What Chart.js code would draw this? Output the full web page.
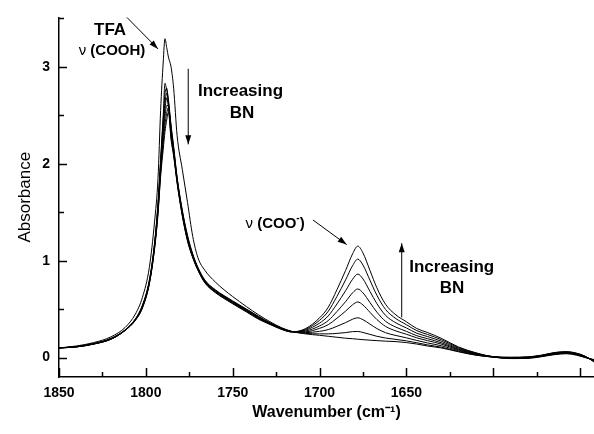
<!DOCTYPE html>
<html>
<head>
<meta charset="utf-8">
<script src="https://cdn.jsdelivr.net/npm/chart.js@4.4.1/dist/chart.umd.min.js"></script>
<style>
  html, body { margin: 0; padding: 0; background: #fff; }
  #wrap { width: 594px; height: 434px; position: relative; }
</style>
</head>
<body>
<div id="wrap"><canvas id="spectra"></canvas></div>
<script>
// --- data ---
const wavenumbers = [1850, 1840, 1830, 1820, 1812, 1806, 1802, 1798, 1795, 1793, 1791.5, 1790, 1789, 1788, 1787, 1785.5,
  1784, 1782, 1779, 1776, 1773, 1770, 1766, 1760, 1755, 1750, 1742, 1735, 1728, 1722, 1716,
  1708, 1700, 1695, 1690, 1685, 1681, 1678, 1675, 1671, 1667, 1662, 1656, 1650, 1644, 1638, 1630, 1620, 1610, 1600,
  1590, 1580, 1572, 1565, 1558, 1552, 1547, 1542];

// TFA alone (no BN)
const tfaOnly = [0.10, 0.12, 0.155, 0.215, 0.31, 0.45, 0.62, 0.93, 1.40, 1.85, 2.55, 3.05, 3.29, 3.20, 3.10, 3.00,
  2.78, 2.29, 1.94, 1.60, 1.25, 1.03, 0.90, 0.78, 0.70, 0.63, 0.525, 0.44, 0.365, 0.31, 0.27,
  0.245, 0.23, 0.22, 0.21, 0.20, 0.195, 0.19, 0.185, 0.18, 0.175, 0.17, 0.165, 0.155, 0.14, 0.12, 0.10, 0.06, 0.025, 0.005,
  -0.01, -0.008, 0.01, 0.03, 0.04, 0.025, 0.0, -0.02];

// increasing amounts of BN
const bn1 = [0.10, 0.115, 0.145, 0.20, 0.285, 0.40, 0.54, 0.80, 1.18, 1.60, 2.05, 2.50, 2.83, 2.76, 2.66, 2.40,
  2.18, 1.86, 1.52, 1.26, 1.07, 0.93, 0.80, 0.70, 0.64, 0.585, 0.50, 0.425, 0.355, 0.305, 0.27,
  0.25, 0.245, 0.245, 0.25, 0.258, 0.268, 0.27, 0.259, 0.24, 0.22, 0.202, 0.188, 0.173, 0.153, 0.132, 0.108, 0.064, 0.027, 0.005,
  -0.008, -0.005, 0.013, 0.034, 0.044, 0.028, 0.002, -0.024];
const bn2 = [0.10, 0.114, 0.144, 0.198, 0.284, 0.398, 0.535, 0.79, 1.17, 1.58, 2.02, 2.45, 2.72, 2.78, 2.64, 2.38,
  2.16, 1.85, 1.51, 1.25, 1.06, 0.925, 0.795, 0.695, 0.635, 0.58, 0.495, 0.42, 0.352, 0.303, 0.27,
  0.258, 0.271, 0.289, 0.323, 0.361, 0.396, 0.411, 0.391, 0.346, 0.30, 0.257, 0.228, 0.204, 0.177, 0.152, 0.123, 0.072, 0.031, 0.006,
  -0.006, -0.002, 0.016, 0.037, 0.047, 0.031, 0.004, -0.028];
const bn3 = [0.10, 0.113, 0.143, 0.196, 0.283, 0.395, 0.53, 0.78, 1.16, 1.56, 1.99, 2.40, 2.62, 2.73, 2.62, 2.36,
  2.14, 1.84, 1.50, 1.24, 1.055, 0.92, 0.79, 0.69, 0.63, 0.575, 0.49, 0.415, 0.35, 0.30, 0.268,
  0.267, 0.302, 0.34, 0.406, 0.48, 0.545, 0.574, 0.543, 0.468, 0.393, 0.322, 0.275, 0.241, 0.204, 0.176, 0.14, 0.08, 0.035, 0.007,
  -0.004, 0.0, 0.018, 0.04, 0.05, 0.034, 0.006, -0.032];
const bn4 = [0.10, 0.112, 0.142, 0.194, 0.282, 0.392, 0.525, 0.775, 1.15, 1.54, 1.96, 2.35, 2.56, 2.68, 2.58, 2.33,
  2.12, 1.83, 1.49, 1.23, 1.05, 0.915, 0.785, 0.685, 0.625, 0.57, 0.485, 0.41, 0.347, 0.298, 0.267,
  0.275, 0.327, 0.382, 0.475, 0.578, 0.668, 0.708, 0.668, 0.569, 0.469, 0.375, 0.314, 0.271, 0.226, 0.196, 0.154, 0.087, 0.039, 0.008,
  -0.002, 0.002, 0.02, 0.043, 0.053, 0.037, 0.008, -0.035];
const bn5 = [0.10, 0.111, 0.141, 0.192, 0.281, 0.39, 0.52, 0.77, 1.14, 1.52, 1.93, 2.28, 2.48, 2.60, 2.60, 2.30,
  2.12, 1.82, 1.48, 1.22, 1.04, 0.91, 0.78, 0.68, 0.62, 0.565, 0.48, 0.405, 0.344, 0.296, 0.266,
  0.284, 0.356, 0.43, 0.553, 0.69, 0.808, 0.862, 0.812, 0.684, 0.557, 0.436, 0.358, 0.306, 0.252, 0.218, 0.17, 0.095, 0.043, 0.009,
  0.0, 0.004, 0.022, 0.046, 0.056, 0.04, 0.01, -0.038];
const bn6 = [0.10, 0.11, 0.14, 0.19, 0.28, 0.387, 0.515, 0.765, 1.13, 1.50, 1.90, 2.22, 2.40, 2.52, 2.58, 2.28,
  2.10, 1.81, 1.47, 1.21, 1.035, 0.905, 0.775, 0.675, 0.615, 0.56, 0.475, 0.40, 0.341, 0.294, 0.265,
  0.292, 0.385, 0.478, 0.631, 0.802, 0.948, 1.016, 0.955, 0.799, 0.644, 0.497, 0.402, 0.34, 0.278, 0.24, 0.186, 0.103, 0.047, 0.009,
  0.002, 0.006, 0.024, 0.049, 0.059, 0.043, 0.012, -0.041];
const bn7 = [0.10, 0.11, 0.14, 0.19, 0.279, 0.385, 0.51, 0.76, 1.12, 1.48, 1.87, 2.15, 2.33, 2.45, 2.53, 2.25,
  2.08, 1.80, 1.46, 1.20, 1.03, 0.90, 0.77, 0.67, 0.61, 0.555, 0.47, 0.395, 0.338, 0.292, 0.265,
  0.30, 0.41, 0.52, 0.70, 0.90, 1.07, 1.15, 1.08, 0.90, 0.72, 0.55, 0.44, 0.37, 0.30, 0.26, 0.20, 0.11, 0.05, 0.01,
  0.004, 0.008, 0.026, 0.052, 0.062, 0.046, 0.014, -0.045];

const xTickLabels = [1850, 1800, 1750, 1700, 1650];
const xTickMarks = [1850, 1825, 1800, 1775, 1750, 1725, 1700, 1675, 1650, 1625, 1600, 1575, 1550];
const yTickLabels = [0, 1, 2, 3];
const yTickMarks = [0, 0.5, 1, 1.5, 2, 2.5, 3, 3.5];

// annotations in data units (wavenumber, absorbance)
const notes = {
  tfa: { w: 1820.6, a: 3.38 },
  cooh: { w: 1819.5, a: 3.165 },
  arrowTfa: [1810.9, 3.51, 1793.0, 3.185],
  arrowDown: [1775.6, 2.98, 1775.6, 2.20],
  inc1: { w: 1745.5, a: 2.745 },
  bn1: { w: 1744.6, a: 2.52 },
  coo: { w: 1725.6, a: 1.38 },
  arrowCoo: [1703.8, 1.42, 1684.4, 1.166],
  arrowUp: [1652.7, 0.415, 1652.7, 1.18],
  inc2: { w: 1623.9, a: 0.93 },
  bn2: { w: 1623.7, a: 0.717 }
};

const FONT = "'Liberation Sans', Arial, Helvetica, sans-serif";
const series = [tfaOnly, bn1, bn2, bn3, bn4, bn5, bn6, bn7];

function drawArrow(ctx, x1, y1, x2, y2) {
  const head = 9, half = 3;
  ctx.beginPath(); ctx.moveTo(x1, y1); ctx.lineTo(x2, y2); ctx.stroke();
  const ang = Math.atan2(y2 - y1, x2 - x1);
  const c = Math.cos(ang), s = Math.sin(ang);
  ctx.beginPath();
  ctx.moveTo(x2, y2);
  ctx.lineTo(x2 - head * c + half * s, y2 - head * s - half * c);
  ctx.lineTo(x2 - head * c - half * s, y2 - head * s + half * c);
  ctx.closePath();
  ctx.fill();
}

function drawParts(ctx, parts, cx, cy) {
  let total = 0;
  parts.forEach(p => { ctx.font = p.font; p.w = ctx.measureText(p.t).width; total += p.w; });
  let x = cx - total / 2;
  ctx.textAlign = 'left';
  ctx.textBaseline = 'middle';
  parts.forEach(p => { ctx.font = p.font; ctx.fillText(p.t, x, cy + (p.dy || 0)); x += p.w; });
}

// tick marks (inward, long at labels, short in between) + text annotations
const extras = {
  id: 'extras',
  afterDraw(chart) {
    const ctx = chart.ctx;
    const xs = chart.scales.x, ys = chart.scales.y;
    const area = chart.chartArea;
    ctx.save();
    ctx.strokeStyle = '#000';
    ctx.fillStyle = '#000';
    ctx.lineWidth = 1.5;
    xTickMarks.forEach(v => {
      const px = Math.round(xs.getPixelForValue(v)) + 0.5;
      const len = v % 50 === 0 ? 9 : 5;
      ctx.beginPath(); ctx.moveTo(px, area.bottom); ctx.lineTo(px, area.bottom - len); ctx.stroke();
    });
    yTickMarks.forEach(v => {
      const py = Math.round(ys.getPixelForValue(v)) + 0.5;
      const len = v % 1 === 0 ? 8 : 5;
      ctx.beginPath(); ctx.moveTo(area.left, py); ctx.lineTo(area.left + len, py); ctx.stroke();
    });

    const X = w => xs.getPixelForValue(w);
    const Y = a => ys.getPixelForValue(a);
    const bold17 = 'bold 17px ' + FONT, bold15 = 'bold 15px ' + FONT, reg15 = '15px ' + FONT;

    drawParts(ctx, [{ t: 'TFA', font: bold17 }], X(notes.tfa.w), Y(notes.tfa.a));
    drawParts(ctx, [{ t: 'ν ', font: reg15 }, { t: '(COOH)', font: bold15 }], X(notes.cooh.w), Y(notes.cooh.a));
    drawParts(ctx, [{ t: 'Increasing', font: bold17 }], X(notes.inc1.w), Y(notes.inc1.a));
    drawParts(ctx, [{ t: 'BN', font: bold17 }], X(notes.bn1.w), Y(notes.bn1.a));
    drawParts(ctx, [{ t: 'ν ', font: reg15 }, { t: '(COO', font: bold15 },
      { t: '-', font: 'bold 10px ' + FONT, dy: -6 }, { t: ')', font: bold15 }], X(notes.coo.w), Y(notes.coo.a));
    drawParts(ctx, [{ t: 'Increasing', font: bold17 }], X(notes.inc2.w), Y(notes.inc2.a));
    drawParts(ctx, [{ t: 'BN', font: bold17 }], X(notes.bn2.w), Y(notes.bn2.a));

    ctx.lineWidth = 1;
    [notes.arrowTfa, notes.arrowDown, notes.arrowCoo, notes.arrowUp].forEach(a => {
      drawArrow(ctx, X(a[0]), Y(a[1]), X(a[2]), Y(a[3]));
    });
    ctx.restore();
  }
};

new Chart(document.getElementById('spectra'), {
  type: 'line',
  data: {
    datasets: series.map((s, i) => ({
      label: 'Serie ' + i,
      data: wavenumbers.map((w, j) => ({ x: w, y: s[j] })),
      borderColor: '#000',
      borderWidth: 1,
      pointRadius: 0,
      fill: false,
      cubicInterpolationMode: 'monotone'
    }))
  },
  options: {
    responsive: true,
    maintainAspectRatio: false,
    animation: false,
    devicePixelRatio: 1,
    layout: { padding: { top: 13, right: 0, left: 0, bottom: 0 } },
    plugins: { legend: { display: false }, tooltip: { enabled: false } },
    scales: {
      x: {
        type: 'linear',
        reverse: true,
        min: 1542,
        max: 1850,
        afterFit: s => { s.height = 57; },
        afterBuildTicks: s => { s.ticks = xTickLabels.map(v => ({ value: v })); },
        grid: { display: true, drawOnChartArea: false, drawTicks: false },
        border: { display: true, color: '#000', width: 1.5 },
        ticks: { color: '#000', font: { family: FONT, size: 14, weight: 'bold' }, padding: 8, maxRotation: 0, autoSkip: false,
          callback: v => String(v) },
        title: { display: true, text: 'Wavenumber (cm⁻¹)', color: '#000',
          font: { family: FONT, size: 16, weight: 'bold' }, padding: { top: 0, bottom: 12 } }
      },
      y: {
        min: -0.2,
        max: 3.51,
        afterFit: s => { s.width = 59; },
        afterBuildTicks: s => { s.ticks = yTickLabels.map(v => ({ value: v })); },
        grid: { display: true, drawOnChartArea: false, drawTicks: false },
        border: { display: true, color: '#000', width: 1.5 },
        ticks: { color: '#000', font: { family: FONT, size: 14, weight: 'bold' }, padding: 9,
          callback: v => String(v) },
        title: { display: true, text: 'Absorbance', color: '#000',
          font: { family: FONT, size: 17, weight: 'normal' }, padding: { top: 15, bottom: 0 } }
      }
    }
  },
  plugins: [extras]
});
</script>
</body>
</html>
